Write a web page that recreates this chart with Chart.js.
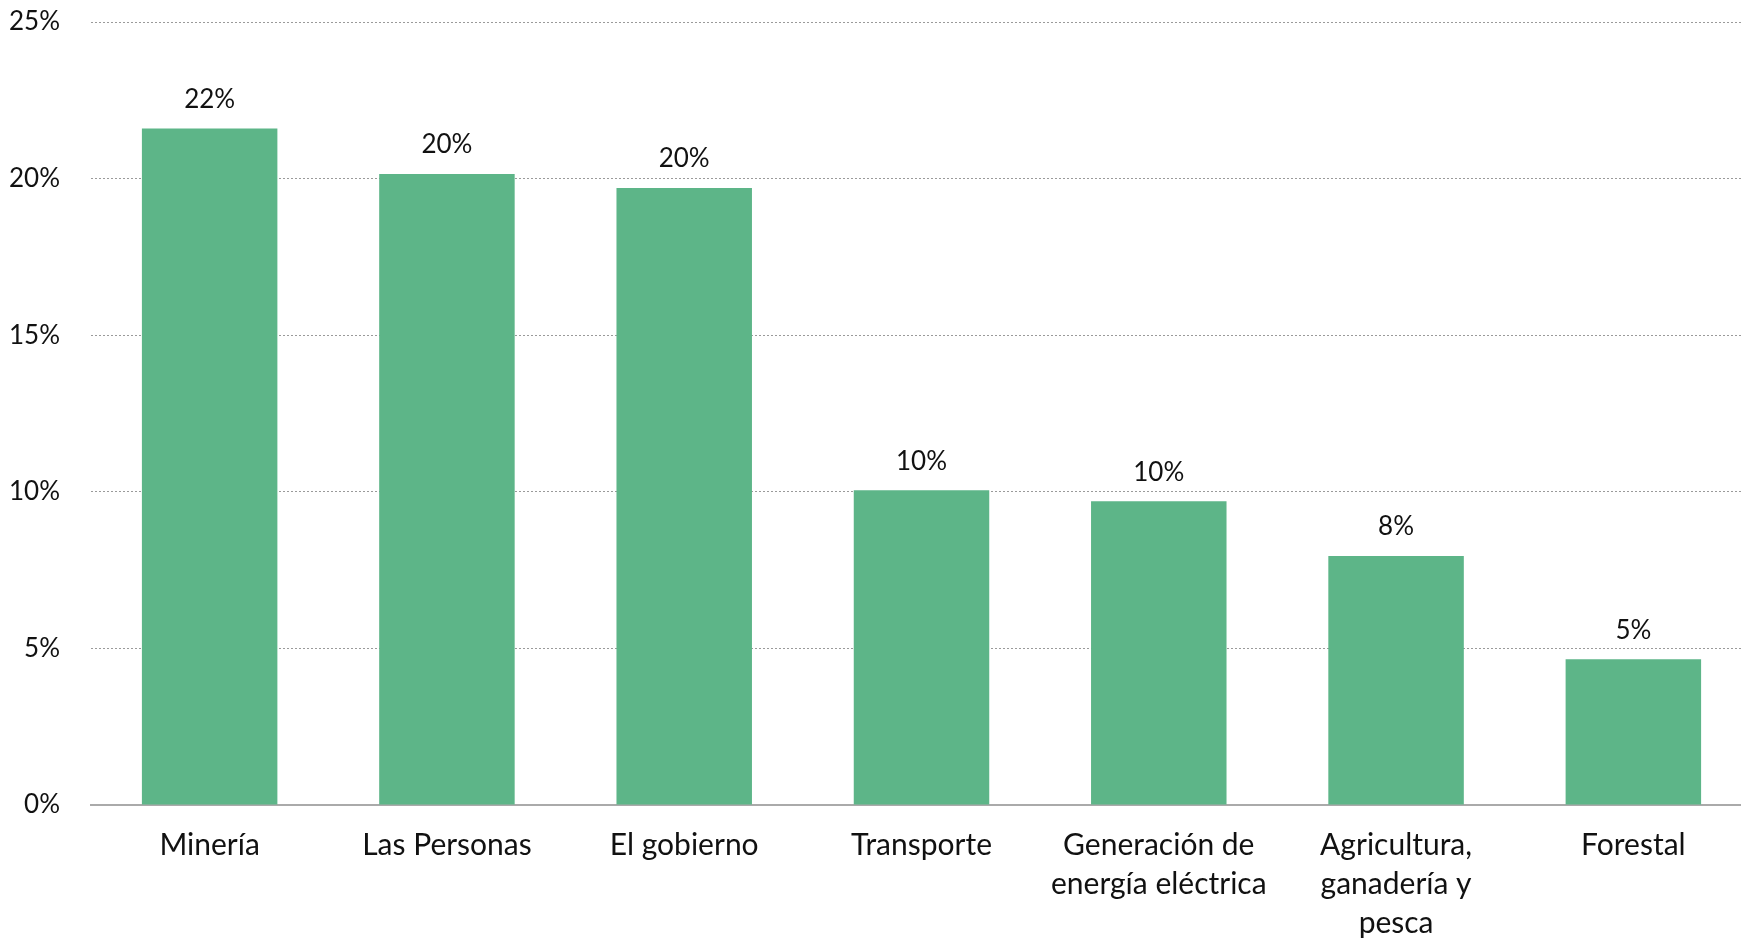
<!DOCTYPE html>
<html>
<head>
<meta charset="utf-8">
<script src="https://cdn.jsdelivr.net/npm/chart.js@4"></script>
<style>
  html, body { margin: 0; padding: 0; background: #fff; overflow: hidden; }
  #wrap { width: 1752px; height: 942px; }
</style>
</head>
<body>
<div id="wrap"><canvas id="sectorBar"></canvas></div>
<script>
// categorías y valores (%)
const sectores = [
  "Minería",
  "Las Personas",
  "El gobierno",
  "Transporte",
  ["Generación de", "energía eléctrica"],
  ["Agricultura,", "ganadería y", "pesca"],
  "Forestal"
];
const porcentajes = [21.6, 20.15, 19.7, 10.05, 9.7, 7.95, 4.65];
const yTicks = [0, 5, 10, 15, 20, 25];

(() => {
  const ctx = document.getElementById("sectorBar").getContext("2d");

  // etiquetas de valor arriba de cada barra
  const valueLabelPlugin = {
    id: "valueLabels",
    afterDatasetsDraw: (chart) => {
      const c = chart.ctx;
      const meta = chart.getDatasetMeta(0);
      c.save();
      c.font = "26px Lato";
      c.fillStyle = "#111";
      c.textAlign = "center";
      c.textBaseline = "bottom";
      meta.data.forEach((bar, i) => {
        c.fillText(Math.round(porcentajes[i]) + "%", bar.x, bar.y - 16);
      });
      c.restore();
    }
  };

  new Chart(ctx, {
    type: "bar",
    data: {
      labels: sectores,
      datasets: [{
        data: porcentajes,
        backgroundColor: "#5DB588",
        borderWidth: 0,
        categoryPercentage: 0.571,
        barPercentage: 1
      }]
    },
    options: {
      responsive: true,
      maintainAspectRatio: false,
      animation: false,
      layout: { padding: 0 },
      plugins: {
        legend: { display: false },
        tooltip: { enabled: false }
      },
      scales: {
        x: {
          afterFit: (axis) => { axis.height = 137; },
          grid: { display: false, drawTicks: false },
          border: { display: true, color: "#aaaaaa", width: 2 },
          ticks: {
            color: "#111",
            font: { family: "Lato", size: 30, lineHeight: 1.3 },
            padding: 21,
            maxRotation: 0,
            autoSkip: false
          }
        },
        y: {
          min: 0,
          max: 25,
          afterBuildTicks: (axis) => { axis.ticks = yTicks.map(v => ({ value: v })); },
          afterFit: (axis) => {
            axis.width = 91;
            axis.paddingTop = 22;
            axis.paddingBottom = 14;
          },
          grid: {
            color: "#9a9a9a",
            lineWidth: 1,
            drawTicks: false
          },
          border: { display: false, dash: [2, 2] },
          ticks: {
            color: "#111",
            font: { family: "Lato", size: 26 },
            padding: 31,
            callback: (v) => v + "%"
          }
        }
      }
    },
    plugins: [valueLabelPlugin]
  });
})();
</script>
</body>
</html>
